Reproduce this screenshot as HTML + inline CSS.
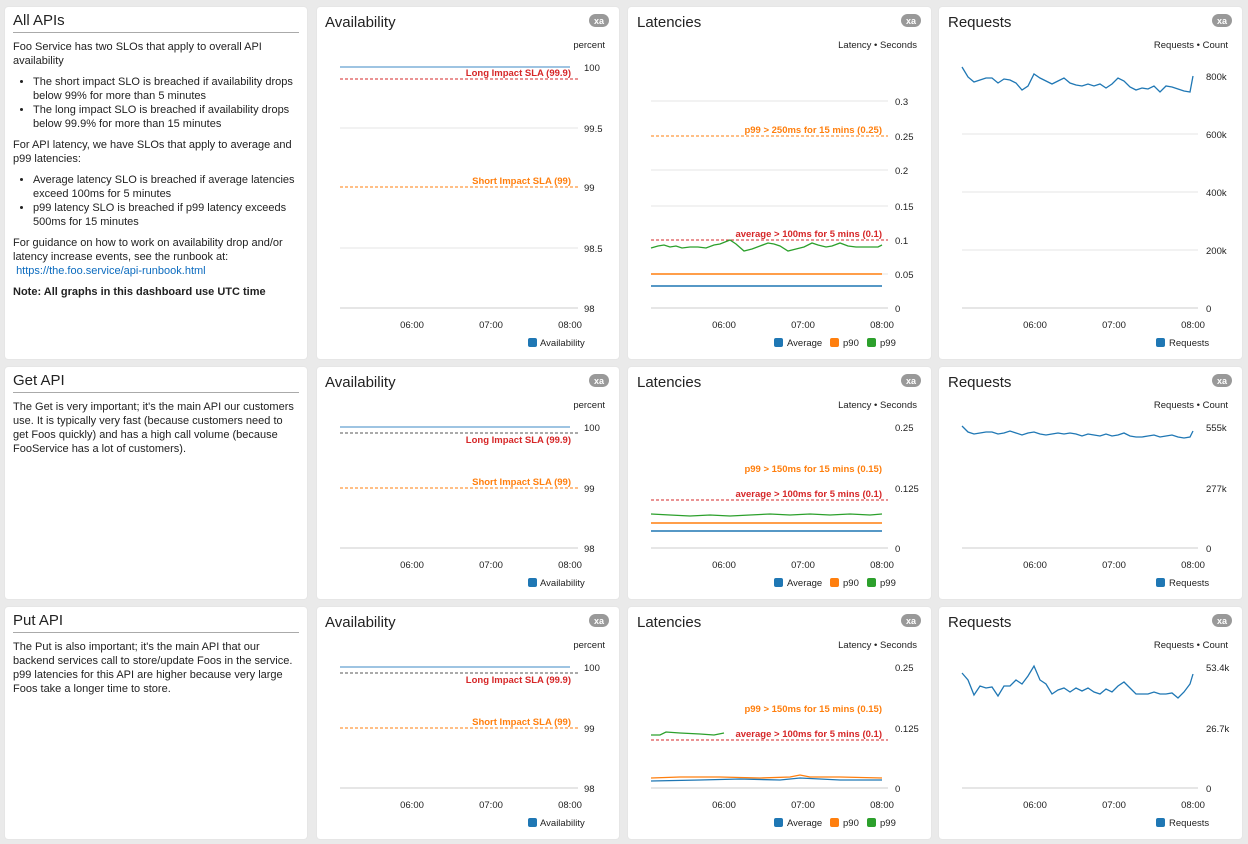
<!DOCTYPE html><html><head><meta charset="utf-8"><style>
body{margin:0;width:1248px;height:844px;background:#eaeaea;font-family:"Liberation Sans",sans-serif;overflow:hidden;position:relative}
.p{position:absolute;background:#fff;border-radius:3px;box-shadow:0 0 1px #ccc}
.tp{padding:0 8px;box-sizing:border-box;font-size:11px;color:#222;line-height:14px}
.tp h2{font-size:15px;font-weight:normal;margin:7px 0 0 0;padding-bottom:4px;border-bottom:1px solid #aaa;color:#222}
.tp p{margin:7px 0}
.tp ul{margin:6px 0;padding-left:20px}
a{color:#0b6bbf;text-decoration:none}
svg{position:absolute;left:0;top:0}
</style></head><body>
<div class="p" style="left:5px;top:7px;width:302px;height:352px"></div>
<div class="p" style="left:317px;top:7px;width:302px;height:352px"></div>
<div class="p" style="left:628px;top:7px;width:303px;height:352px"></div>
<div class="p" style="left:939px;top:7px;width:303px;height:352px"></div>
<div class="p" style="left:5px;top:367px;width:302px;height:232px"></div>
<div class="p" style="left:317px;top:367px;width:302px;height:232px"></div>
<div class="p" style="left:628px;top:367px;width:303px;height:232px"></div>
<div class="p" style="left:939px;top:367px;width:303px;height:232px"></div>
<div class="p" style="left:5px;top:607px;width:302px;height:232px"></div>
<div class="p" style="left:317px;top:607px;width:302px;height:232px"></div>
<div class="p" style="left:628px;top:607px;width:303px;height:232px"></div>
<div class="p" style="left:939px;top:607px;width:303px;height:232px"></div>

<div class="tp" style="position:absolute;left:5px;top:7px;width:302px">
<h2>All APIs</h2>
<p>Foo Service has two SLOs that apply to overall API availability</p>
<ul><li>The short impact SLO is breached if availability drops below 99% for more than 5 minutes</li><li>The long impact SLO is breached if availability drops below 99.9% for more than 15 minutes</li></ul>
<p>For API latency, we have SLOs that apply to average and p99 latencies:</p>
<ul><li>Average latency SLO is breached if average latencies exceed 100ms for 5 minutes</li><li>p99 latency SLO is breached if p99 latency exceeds 500ms for 15 minutes</li></ul>
<p>For guidance on how to work on availability drop and/or latency increase events, see the runbook at:<br>&nbsp;<a>https://the.foo.service/api-runbook.html</a></p>
<p><b>Note: All graphs in this dashboard use UTC time</b></p>
</div>
<div class="tp" style="position:absolute;left:5px;top:367px;width:302px">
<h2>Get API</h2>
<p>The Get is very important; it's the main API our customers use. It is typically very fast (because customers need to get Foos quickly) and has a high call volume (because FooService has a lot of customers).</p>
</div>
<div class="tp" style="position:absolute;left:5px;top:607px;width:302px">
<h2>Put API</h2>
<p>The Put is also important; it's the main API that our backend services call to store/update Foos in the service. p99 latencies for this API are higher because very large Foos take a longer time to store.</p>
</div>

<svg width="1248" height="844" font-family="Liberation Sans, sans-serif">
<defs>
<g id="xa"><rect x="0" y="0" width="20" height="13" rx="6.5" fill="#999"/><text x="10" y="10" font-size="9" font-weight="bold" fill="#fff" text-anchor="middle">xa</text></g>
</defs>
<g font-size="15" fill="#222">
<text x="325" y="27">Availability</text><text x="637" y="27">Latencies</text><text x="948" y="27">Requests</text>
<text x="325" y="387">Availability</text><text x="637" y="387">Latencies</text><text x="948" y="387">Requests</text>
<text x="325" y="627">Availability</text><text x="637" y="627">Latencies</text><text x="948" y="627">Requests</text>
</g>
<use href="#xa" x="589" y="14"/><use href="#xa" x="901" y="14"/><use href="#xa" x="1212" y="14"/>
<use href="#xa" x="589" y="374"/><use href="#xa" x="901" y="374"/><use href="#xa" x="1212" y="374"/>
<use href="#xa" x="589" y="614"/><use href="#xa" x="901" y="614"/><use href="#xa" x="1212" y="614"/>

<g font-size="9.5" fill="#222">
<text x="605" y="48" text-anchor="end">percent</text>
<g stroke="#e4e4e4"><line x1="340" x2="578" y1="128" y2="128"/><line x1="340" x2="578" y1="248" y2="248"/><line x1="340" x2="578" y1="308" y2="308" stroke="#ccc"/></g>
<text x="584" y="71">100</text><text x="584" y="132">99.5</text><text x="584" y="191">99</text><text x="584" y="252">98.5</text><text x="584" y="312">98</text>
<text x="412" y="328" text-anchor="middle">06:00</text><text x="491" y="328" text-anchor="middle">07:00</text><text x="570" y="328" text-anchor="middle">08:00</text>
<line x1="340" x2="570" y1="67" y2="67" stroke="#7eb0d8" stroke-width="1.5"/>
<line x1="340" x2="578" y1="79" y2="79" stroke="#d62728" stroke-dasharray="3,2"/>
<text x="571" y="76" text-anchor="end" fill="#d62728" font-weight="bold">Long Impact SLA (99.9)</text>
<line x1="340" x2="578" y1="187" y2="187" stroke="#ff7f0e" stroke-dasharray="3,2"/>
<text x="571" y="184" text-anchor="end" fill="#ff7f0e" font-weight="bold">Short Impact SLA (99)</text>
<rect x="528" y="338" width="9" height="9" rx="2" fill="#1f77b4"/><text x="540" y="346">Availability</text>

<text x="917" y="48" text-anchor="end">Latency • Seconds</text>
<g stroke="#e4e4e4"><line x1="651" x2="888" y1="101" y2="101"/><line x1="651" x2="888" y1="170" y2="170"/><line x1="651" x2="888" y1="206" y2="206"/><line x1="651" x2="888" y1="274" y2="274"/><line x1="651" x2="888" y1="308" y2="308" stroke="#ccc"/></g>
<text x="895" y="105">0.3</text><text x="895" y="140">0.25</text><text x="895" y="174">0.2</text><text x="895" y="210">0.15</text><text x="895" y="244">0.1</text><text x="895" y="278">0.05</text><text x="895" y="312">0</text>
<text x="724" y="328" text-anchor="middle">06:00</text><text x="803" y="328" text-anchor="middle">07:00</text><text x="882" y="328" text-anchor="middle">08:00</text>
<line x1="651" x2="888" y1="136" y2="136" stroke="#ff7f0e" stroke-dasharray="3,2"/>
<text x="882" y="133" text-anchor="end" fill="#ff7f0e" font-weight="bold">p99 &gt; 250ms for 15 mins (0.25)</text>
<line x1="651" x2="888" y1="240" y2="240" stroke="#d62728" stroke-dasharray="3,2"/>
<text x="882" y="237" text-anchor="end" fill="#d62728" font-weight="bold">average &gt; 100ms for 5 mins (0.1)</text>
<line x1="651" x2="882" y1="286" y2="286" stroke="#1f77b4" stroke-width="1.5"/>
<line x1="651" x2="882" y1="274" y2="274" stroke="#ff7f0e" stroke-width="1.5"/>
<polyline fill="none" stroke="#2ca02c" stroke-width="1.3" points="651,248 658,246 664,245 670,247 676,246 682,248 690,247 698,247 706,248 714,245 720,244 730,240 736,244 744,251 752,249 760,246 768,243 774,244 780,246 788,251 796,249 804,247 812,243 818,245 826,247 832,246 840,243 848,246 856,247 864,247 872,247 878,247 882,245"/>
<rect x="774" y="338" width="9" height="9" rx="2" fill="#1f77b4"/><text x="787" y="346">Average</text>
<rect x="830" y="338" width="9" height="9" rx="2" fill="#ff7f0e"/><text x="843" y="346">p90</text>
<rect x="867" y="338" width="9" height="9" rx="2" fill="#2ca02c"/><text x="880" y="346">p99</text>

<text x="1228" y="48" text-anchor="end">Requests • Count</text>
<g stroke="#e4e4e4"><line x1="962" x2="1198" y1="134" y2="134"/><line x1="962" x2="1198" y1="192" y2="192"/><line x1="962" x2="1198" y1="250" y2="250"/><line x1="962" x2="1198" y1="308" y2="308" stroke="#ccc"/></g>
<text x="1206" y="80">800k</text><text x="1206" y="138">600k</text><text x="1206" y="196">400k</text><text x="1206" y="254">200k</text><text x="1206" y="312">0</text>
<text x="1035" y="328" text-anchor="middle">06:00</text><text x="1114" y="328" text-anchor="middle">07:00</text><text x="1193" y="328" text-anchor="middle">08:00</text>
<polyline fill="none" stroke="#1f77b4" stroke-width="1.3" points="962,67 968,77 974,82 980,80 986,78 992,78 998,83 1004,79 1010,80 1016,83 1022,90 1028,86 1034,74 1040,78 1046,81 1052,84 1058,81 1064,78 1070,83 1076,85 1082,86 1088,84 1094,86 1100,84 1106,88 1112,84 1118,78 1124,81 1130,87 1136,90 1142,88 1148,89 1154,86 1160,92 1166,86 1172,87 1178,89 1184,91 1190,92 1193,76"/>
<rect x="1156" y="338" width="9" height="9" rx="2" fill="#1f77b4"/><text x="1169" y="346">Requests</text>

<text x="605" y="408" text-anchor="end">percent</text>
<line x1="340" x2="578" y1="548" y2="548" stroke="#ccc"/>
<text x="584" y="431">100</text><text x="584" y="492">99</text><text x="584" y="552">98</text>
<text x="412" y="568" text-anchor="middle">06:00</text><text x="491" y="568" text-anchor="middle">07:00</text><text x="570" y="568" text-anchor="middle">08:00</text>
<line x1="340" x2="570" y1="427" y2="427" stroke="#7eb0d8" stroke-width="1.5"/>
<line x1="340" x2="578" y1="433" y2="433" stroke="#555" stroke-dasharray="3,2"/>
<text x="571" y="443" text-anchor="end" fill="#d62728" font-weight="bold">Long Impact SLA (99.9)</text>
<line x1="340" x2="578" y1="488" y2="488" stroke="#ff7f0e" stroke-dasharray="3,2"/>
<text x="571" y="485" text-anchor="end" fill="#ff7f0e" font-weight="bold">Short Impact SLA (99)</text>
<rect x="528" y="578" width="9" height="9" rx="2" fill="#1f77b4"/><text x="540" y="586">Availability</text>

<text x="917" y="408" text-anchor="end">Latency • Seconds</text>
<line x1="651" x2="888" y1="548" y2="548" stroke="#ccc"/>
<text x="895" y="431">0.25</text><text x="895" y="492">0.125</text><text x="895" y="552">0</text>
<text x="724" y="568" text-anchor="middle">06:00</text><text x="803" y="568" text-anchor="middle">07:00</text><text x="882" y="568" text-anchor="middle">08:00</text>
<text x="882" y="472" text-anchor="end" fill="#ff7f0e" font-weight="bold">p99 &gt; 150ms for 15 mins (0.15)</text>
<line x1="651" x2="888" y1="500" y2="500" stroke="#d62728" stroke-dasharray="3,2"/>
<text x="882" y="497" text-anchor="end" fill="#d62728" font-weight="bold">average &gt; 100ms for 5 mins (0.1)</text>
<line x1="651" x2="882" y1="531" y2="531" stroke="#1f77b4" stroke-width="1.5"/>
<line x1="651" x2="882" y1="523" y2="523" stroke="#ff7f0e" stroke-width="1.5"/>
<polyline fill="none" stroke="#2ca02c" stroke-width="1.3" points="651,514 670,515 690,516 710,515 730,516 750,515 770,514 790,515 810,514 830,515 850,514 870,515 882,514"/>
<rect x="774" y="578" width="9" height="9" rx="2" fill="#1f77b4"/><text x="787" y="586">Average</text>
<rect x="830" y="578" width="9" height="9" rx="2" fill="#ff7f0e"/><text x="843" y="586">p90</text>
<rect x="867" y="578" width="9" height="9" rx="2" fill="#2ca02c"/><text x="880" y="586">p99</text>

<text x="1228" y="408" text-anchor="end">Requests • Count</text>
<line x1="962" x2="1198" y1="548" y2="548" stroke="#ccc"/>
<text x="1206" y="431">555k</text><text x="1206" y="492">277k</text><text x="1206" y="552">0</text>
<text x="1035" y="568" text-anchor="middle">06:00</text><text x="1114" y="568" text-anchor="middle">07:00</text><text x="1193" y="568" text-anchor="middle">08:00</text>
<polyline fill="none" stroke="#1f77b4" stroke-width="1.3" points="962,426 968,432 974,434 980,433 986,432 992,432 998,434 1004,433 1010,431 1016,433 1022,435 1028,433 1034,432 1040,434 1046,435 1052,434 1058,433 1064,434 1070,433 1076,434 1082,436 1088,434 1094,435 1100,436 1106,434 1112,436 1118,435 1124,433 1130,436 1136,437 1142,437 1148,436 1154,435 1160,437 1166,436 1172,435 1178,437 1184,438 1190,437 1193,431"/>
<rect x="1156" y="578" width="9" height="9" rx="2" fill="#1f77b4"/><text x="1169" y="586">Requests</text>

<text x="605" y="648" text-anchor="end">percent</text>
<line x1="340" x2="578" y1="788" y2="788" stroke="#ccc"/>
<text x="584" y="671">100</text><text x="584" y="732">99</text><text x="584" y="792">98</text>
<text x="412" y="808" text-anchor="middle">06:00</text><text x="491" y="808" text-anchor="middle">07:00</text><text x="570" y="808" text-anchor="middle">08:00</text>
<line x1="340" x2="570" y1="667" y2="667" stroke="#7eb0d8" stroke-width="1.5"/>
<line x1="340" x2="578" y1="673" y2="673" stroke="#555" stroke-dasharray="3,2"/>
<text x="571" y="683" text-anchor="end" fill="#d62728" font-weight="bold">Long Impact SLA (99.9)</text>
<line x1="340" x2="578" y1="728" y2="728" stroke="#ff7f0e" stroke-dasharray="3,2"/>
<text x="571" y="725" text-anchor="end" fill="#ff7f0e" font-weight="bold">Short Impact SLA (99)</text>
<rect x="528" y="818" width="9" height="9" rx="2" fill="#1f77b4"/><text x="540" y="826">Availability</text>

<text x="917" y="648" text-anchor="end">Latency • Seconds</text>
<line x1="651" x2="888" y1="788" y2="788" stroke="#ccc"/>
<text x="895" y="671">0.25</text><text x="895" y="732">0.125</text><text x="895" y="792">0</text>
<text x="724" y="808" text-anchor="middle">06:00</text><text x="803" y="808" text-anchor="middle">07:00</text><text x="882" y="808" text-anchor="middle">08:00</text>
<text x="882" y="712" text-anchor="end" fill="#ff7f0e" font-weight="bold">p99 &gt; 150ms for 15 mins (0.15)</text>
<line x1="651" x2="888" y1="740" y2="740" stroke="#d62728" stroke-dasharray="3,2"/>
<text x="882" y="737" text-anchor="end" fill="#d62728" font-weight="bold">average &gt; 100ms for 5 mins (0.1)</text>
<polyline fill="none" stroke="#2ca02c" stroke-width="1.3" points="651,735 660,735 666,732 680,733 700,734 714,735 724,733"/>
<polyline fill="none" stroke="#ff7f0e" stroke-width="1.3" points="651,778 680,777 720,777 760,778 790,777 800,775 810,777 840,777 882,778"/>
<polyline fill="none" stroke="#1f77b4" stroke-width="1.3" points="651,781 700,780 740,779 780,780 800,778 840,780 882,780"/>
<rect x="774" y="818" width="9" height="9" rx="2" fill="#1f77b4"/><text x="787" y="826">Average</text>
<rect x="830" y="818" width="9" height="9" rx="2" fill="#ff7f0e"/><text x="843" y="826">p90</text>
<rect x="867" y="818" width="9" height="9" rx="2" fill="#2ca02c"/><text x="880" y="826">p99</text>

<text x="1228" y="648" text-anchor="end">Requests • Count</text>
<line x1="962" x2="1198" y1="788" y2="788" stroke="#ccc"/>
<text x="1206" y="671">53.4k</text><text x="1206" y="732">26.7k</text><text x="1206" y="792">0</text>
<text x="1035" y="808" text-anchor="middle">06:00</text><text x="1114" y="808" text-anchor="middle">07:00</text><text x="1193" y="808" text-anchor="middle">08:00</text>
<polyline fill="none" stroke="#1f77b4" stroke-width="1.3" points="962,673 968,680 974,695 980,686 986,688 992,687 998,696 1004,686 1010,686 1016,680 1022,684 1028,676 1034,666 1040,680 1046,684 1052,694 1058,690 1064,688 1070,692 1076,688 1082,691 1088,688 1094,692 1100,694 1106,689 1112,692 1118,686 1124,682 1130,688 1136,694 1142,694 1148,694 1154,692 1160,694 1166,694 1172,693 1178,698 1184,692 1190,684 1193,674"/>
<rect x="1156" y="818" width="9" height="9" rx="2" fill="#1f77b4"/><text x="1169" y="826">Requests</text>
</g>
</svg>
</body></html>
